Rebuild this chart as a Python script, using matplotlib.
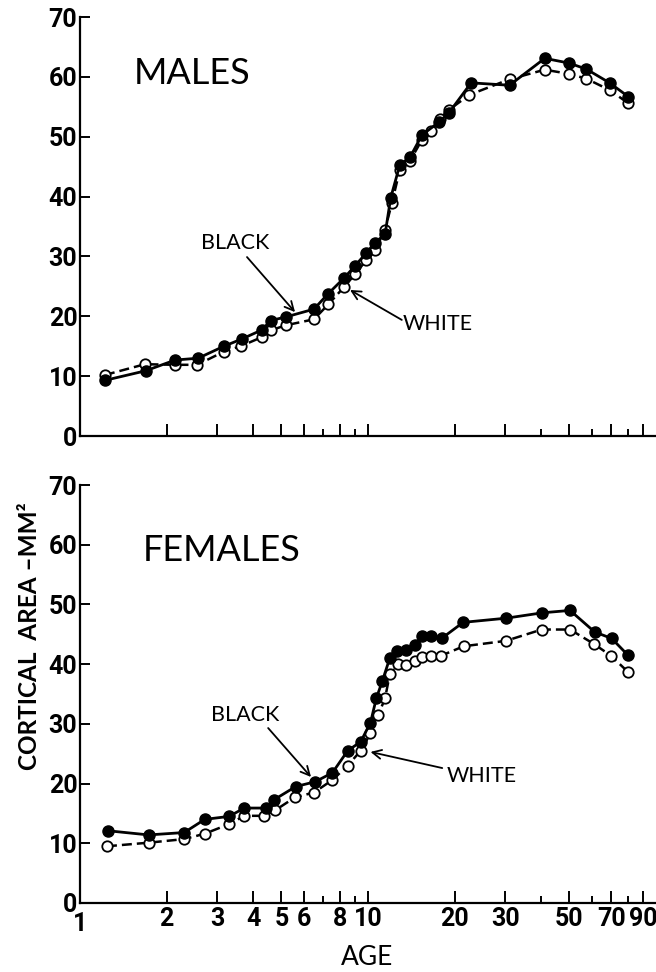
import numpy as np
import matplotlib.pyplot as plt
from matplotlib.ticker import FixedLocator, NullFormatter

# male data (age in years, cortical area mm2)
m_black_age = [1.22, 1.69, 2.14, 2.57, 3.16, 3.64, 4.27, 4.6, 5.19, 6.49, 7.28, 8.26, 9.0, 9.87,
               10.57, 11.46, 11.99, 12.88, 14.0, 15.4, 17.6, 19.1, 22.8, 31.0, 41.1, 49.9, 57.3, 69.0, 80.1]
m_black_val = [9.3, 10.9, 12.7, 13.0, 15.0, 16.2, 17.7, 19.3, 19.9, 21.2, 23.8, 26.4, 28.4, 30.6,
               32.3, 33.7, 39.8, 45.2, 46.6, 50.3, 52.4, 54.0, 59.0, 58.6, 63.1, 62.3, 61.3, 59.0, 56.7]
m_white_age = [1.22, 1.68, 2.14, 2.55, 3.16, 3.61, 4.27, 4.62, 5.18, 6.49, 7.28, 8.26, 9.0, 9.87,
               10.57, 11.46, 12.1, 12.9, 14.0, 15.4, 16.5, 17.75, 19.1, 22.5, 31.0, 41.1, 49.9, 57.3, 69.0, 80.1]
m_white_val = [10.2, 12.0, 11.9, 11.9, 14.1, 15.0, 16.5, 17.7, 18.5, 19.5, 22.0, 24.9, 27.0, 29.4,
               31.0, 34.5, 38.9, 44.5, 46.0, 49.5, 51.0, 52.9, 54.5, 57.0, 59.6, 61.2, 60.5, 59.7, 57.8, 55.6]

# female data
f_black_age = [1.25, 1.73, 2.30, 2.71, 3.29, 3.72, 4.41, 4.72, 5.61, 6.55, 7.52, 8.5, 9.43, 10.2,
               10.69, 11.2, 11.9, 12.64, 13.6, 14.56, 15.36, 16.5, 18.0, 21.4, 30.2, 40.3, 50.3, 61.2, 70.2, 79.9]
f_black_val = [12.1, 11.4, 11.8, 14.0, 14.5, 15.9, 15.9, 17.3, 19.5, 20.3, 21.8, 25.5, 27.0, 30.2,
               34.3, 37.1, 41.0, 42.2, 42.4, 43.2, 44.7, 44.7, 44.3, 47.0, 47.7, 48.6, 49.0, 45.4, 44.3, 41.5]
f_white_age = [1.24, 1.73, 2.30, 2.71, 3.29, 3.72, 4.36, 4.75, 5.58, 6.49, 7.52, 8.5, 9.43, 10.2,
               10.86, 11.46, 11.9, 12.74, 13.6, 14.56, 15.4, 16.5, 17.9, 21.5, 30.1, 40.1, 50.3, 60.8, 69.8, 79.9]
f_white_val = [9.5, 10.1, 10.7, 11.6, 13.2, 14.6, 14.6, 15.5, 17.7, 18.5, 20.6, 23.0, 25.5, 28.4,
               31.5, 34.3, 38.3, 40.0, 39.9, 40.5, 41.2, 41.4, 41.4, 43.0, 43.9, 45.8, 45.8, 43.4, 41.4, 38.7]

major_ticks = [2, 3, 4, 5, 6, 8, 10, 20, 30, 50, 70, 90]
minor_ticks = [7, 9, 40, 60, 80]
x_labels = ['2', '3', '4', '5', '6', '8', '10', '20', '30', '50', '70', '90']
y_ticks = [0, 10, 20, 30, 40, 50, 60, 70]

num_font = ['Roboto', 'DejaVu Sans']
txt_font = ['Lato', 'DejaVu Sans']

fig = plt.figure(figsize=(6.56, 9.72), dpi=100)
ax_m = fig.add_axes([0.122, 0.5514, 0.878, 0.4311])
ax_f = fig.add_axes([0.122, 0.0710, 0.878, 0.4300])


def style_axes(ax, show_labels):
    ax.set_xscale('log')
    ax.set_xlim(1, 100)
    ax.set_ylim(0, 70)
    for s in ['top', 'right']:
        ax.spines[s].set_visible(False)
    for s in ['left', 'bottom']:
        ax.spines[s].set_linewidth(1.6)
    ax.xaxis.set_major_locator(FixedLocator(major_ticks))
    ax.xaxis.set_minor_locator(FixedLocator(minor_ticks))
    ax.xaxis.set_minor_formatter(NullFormatter())
    ax.tick_params(axis='x', which='major', direction='in', length=9, width=1.4, pad=3)
    ax.tick_params(axis='x', which='minor', direction='in', length=5, width=1.4)
    ax.tick_params(axis='y', direction='in', length=7, width=1.4, pad=2)
    ax.set_yticks(y_ticks)
    ax.set_yticklabels([str(v) for v in y_ticks], family=num_font, weight='bold', fontsize=18)
    if show_labels:
        ax.set_xticklabels(x_labels, family=num_font, weight='bold', fontsize=18)
    else:
        ax.set_xticklabels([])


def draw(ax, b_age, b_val, w_age, w_val):
    ax.plot(w_age, w_val, color='black', linestyle=(0, (4, 2)), linewidth=1.8,
            marker='o', markersize=7.5, markerfacecolor='white', markeredgecolor='black',
            markeredgewidth=1.3, zorder=3)
    ax.plot(b_age, b_val, color='black', linestyle='-', linewidth=2.0,
            marker='o', markersize=8, markerfacecolor='black', markeredgecolor='black', zorder=4)


style_axes(ax_m, False)
style_axes(ax_f, True)
# the "1" at the origin
ax_f.text(1, -1.5, '1', family=num_font, weight='bold', fontsize=18, ha='center', va='top')

draw(ax_m, m_black_age, m_black_val, m_white_age, m_white_val)
draw(ax_f, f_black_age, f_black_val, f_white_age, f_white_val)

arrow = dict(arrowstyle='->', color='black', lw=1.3, mutation_scale=16, shrinkA=0, shrinkB=0)

ax_m.text(2.45, 60.6, 'MALES', family=txt_font, fontsize=26, ha='center', va='center')
ax_m.text(3.45, 32.2, 'BLACK', family=txt_font, fontsize=15.5, ha='center', va='center')
ax_m.annotate('', xy=(5.58, 20.7), xytext=(3.80, 29.9), arrowprops=arrow)
ax_m.text(17.5, 18.7, 'WHITE', family=txt_font, fontsize=15.5, ha='center', va='center')
ax_m.annotate('', xy=(8.66, 24.4), xytext=(13.1, 19.4), arrowprops=arrow)

ax_f.text(3.11, 59.0, 'FEMALES', family=txt_font, fontsize=26, ha='center', va='center')
ax_f.text(3.74, 31.5, 'BLACK', family=txt_font, fontsize=15.5, ha='center', va='center')
ax_f.annotate('', xy=(6.34, 21.1), xytext=(4.50, 29.3), arrowprops=arrow)
ax_f.text(24.9, 21.3, 'WHITE', family=txt_font, fontsize=15.5, ha='center', va='center')
ax_f.annotate('', xy=(10.2, 25.3), xytext=(18.1, 22.6), arrowprops=arrow)

fig.text(30 / 656, 1 - 636 / 972, 'CORTICAL  AREA \u2013MM\u00b2', rotation=90, family=txt_font,
         weight='bold', fontsize=17.5, ha='center', va='center')
fig.text(367 / 656, 1 - 957 / 972, 'AGE', family=txt_font, fontsize=19, ha='center', va='center')

fig.savefig('out.png', dpi=100)
